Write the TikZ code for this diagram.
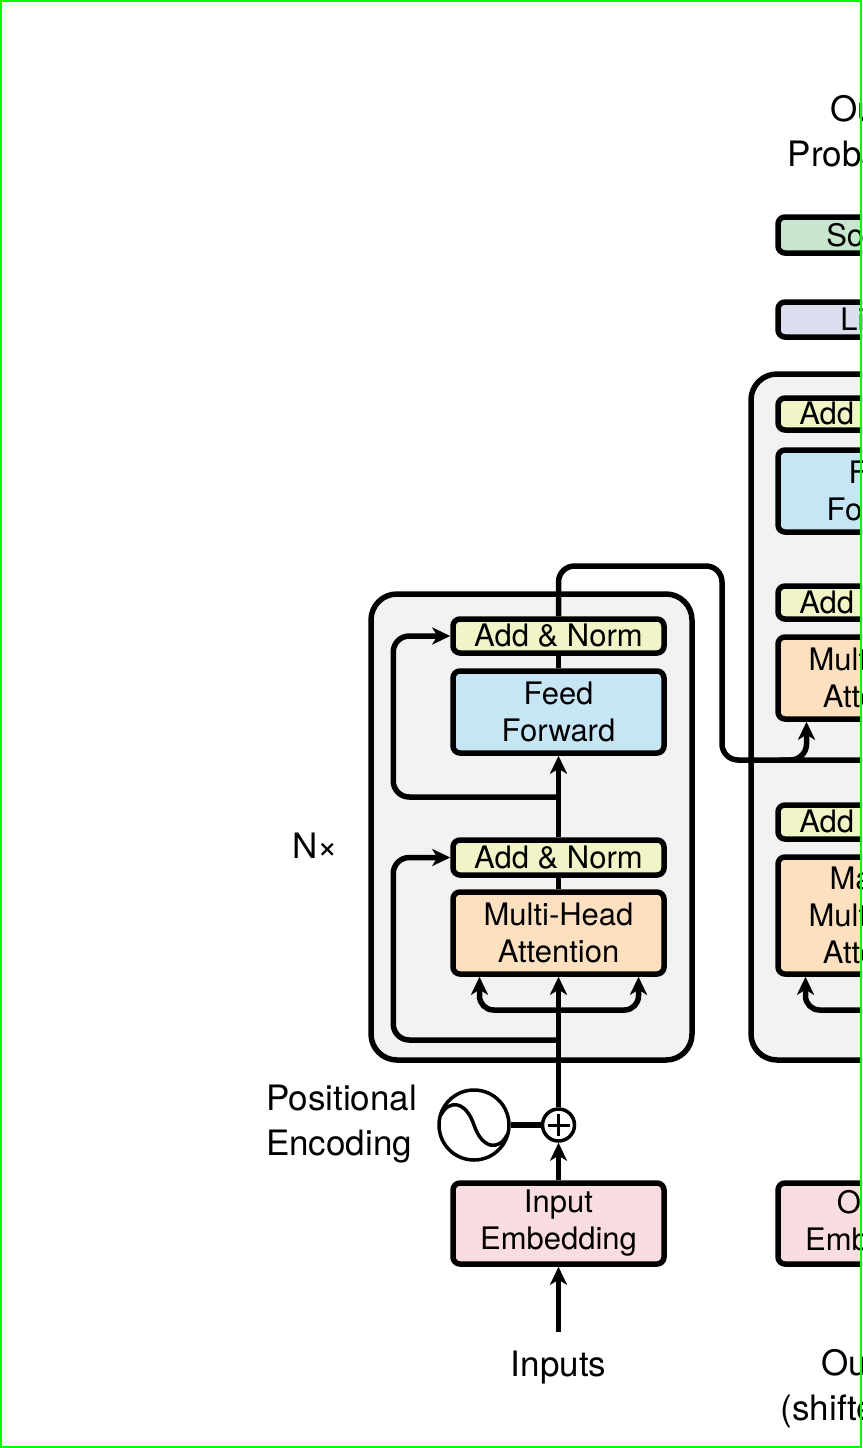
\documentclass[tikz,border=0pt]{standalone}
\usepackage{fontspec}
\setmainfont{TeX Gyre Heros}
\usetikzlibrary{calc,arrows.meta}
\definecolor{stackgray}{RGB}{242,242,242}
\definecolor{normcol}{RGB}{240,244,198}
\definecolor{ffcol}{RGB}{198,230,245}
\definecolor{attcol}{RGB}{253,224,192}
\definecolor{embcol}{RGB}{250,221,225}
\definecolor{softcol}{RGB}{200,230,206}
\definecolor{lincol}{RGB}{220,222,240}
\tikzset{
	block/.style={rectangle,draw,rounded corners=7,line width=5.5,minimum width=211,inner sep=0pt,align=center,font=\fontsize{31}{37}\selectfont},
	addnorm/.style={block,fill=normcol,minimum height=34},
	lbl/.style={draw=none,inner sep=0pt,align=center,font=\fontsize{35}{45}\selectfont},
	wire/.style={line width=5.5},
	directed/.style={line width=5.5,arrows={-Stealth[length=18pt,width=17pt,inset=5pt]}}
	}
\begin{document}
\begin{tikzpicture}[x=1pt,y=-1pt,
		stack/.style={draw,line width=5.5,rounded corners=26,fill=stackgray},
		ring/.style={circle,draw,line width=3.5,inner sep=0pt}]
	\useasboundingbox (0,0) rectangle (862,1448);
	\clip (0,0) rectangle (862,1448);
	\draw[stack] (371,594) rectangle (692,1060);
	\draw[stack] (751,374) rectangle (1072,1060);
	% encoder
	\node[addnorm] (addB) at (558.5,636) {Add \& Norm};
	\node[block,fill=ffcol,minimum height=82] (ff) at (558.5,712) {Feed\\Forward};
	\node[addnorm,minimum height=35] (addA) at (558.5,857.5) {Add \& Norm};
	\node[block,fill=attcol,minimum height=82] (mha) at (558.5,933) {Multi-Head\\Attention};
	\node[block,fill=embcol,minimum height=81] (emb) at (558.5,1223.5) {Input\\Embedding};
	\node[ring,minimum size=32] (plus) at (558.5,1125) {};
	\node[ring,minimum size=70] (pe) at (474,1125) {};
	\node[lbl,align=left] (posenc) at (341.5,1124) {Positional\\Encoding};
	\node[lbl] (inp) at (558.5,1368) {Inputs};
	\node[lbl] (nx) at (315,846) {N×};
	% decoder
	\node[lbl] (outprob) at (883,131) {Output\\Probabilities};
	\node[block,fill=softcol,minimum height=36] (softmax) at (883.5,235) {Softmax};
	\node[block,fill=lincol,minimum height=35] (linear) at (883.5,319.5) {Linear};
	\node[addnorm,minimum height=32] (daddC) at (883.5,414) {Add \& Norm};
	\node[block,fill=ffcol,minimum height=82] (dff) at (883.5,491) {Feed\\Forward};
	\node[addnorm,minimum height=33] (daddB) at (883.5,602.5) {Add \& Norm};
	\node[block,fill=attcol,minimum height=82] (dmha) at (883.5,678) {Multi-Head\\Attention};
	\node[addnorm] (daddA) at (883.5,822) {Add \& Norm};
	\node[block,fill=attcol,minimum height=117] (dmmha) at (883.5,915.5) {Masked\\Multi-Head\\Attention};
	\node[block,fill=embcol,minimum height=81] (oemb) at (883.5,1223.5) {Output\\Embedding};
	\node[lbl] (outs) at (883,1389) {Outputs\\(shifted right)};
	% sine inside the encoding ring
	\draw[line width=3.5] ($(pe.center)+(-33,-10)$) .. controls ($(pe.center)+(-25,-26)$) and ($(pe.center)+(-8,-24)$) .. (pe.center)
		.. controls ($(pe.center)+(8,24)$) and ($(pe.center)+(25,26)$) .. ($(pe.center)+(33,10)$);
	\draw[line width=3] ([yshift=-11]plus.center) -- ([yshift=11]plus.center);
	\draw[line width=3] ([xshift=-11]plus.center) -- ([xshift=11]plus.center);
	% encoder wires
	\coordinate (inpt) at (558.5,1332);
	\coordinate (esplit) at (558.5,1010);
	\coordinate (eres1) at (558.5,1040);
	\coordinate (eres2) at (558.5,797);
	\draw[directed] (inpt) -- (emb.south);
	\draw[directed] (emb.north) -- (plus.south);
	\draw[wire] (pe.east) -- (plus.west);
	\draw[directed] (plus.north) -- (mha.south);
	\draw[directed,rounded corners=14] (esplit) -| ([xshift=-79]mha.south);
	\draw[directed,rounded corners=14] (esplit) -| ([xshift=80]mha.south);
	\draw[directed,rounded corners=16] (eres1) -| ([xshift=-57]addA.west) -- (addA.west);
	\draw[wire] (mha.north) -- (addA.south);
	\draw[directed] (addA.north) -- (ff.south);
	\draw[directed,rounded corners=16] (eres2) -| ([xshift=-57]addB.west) -- (addB.west);
	\draw[wire] (ff.north) -- (addB.south);
	% encoder output into decoder
	\coordinate (kvsplit) at (780,760);
	\draw[directed,rounded corners=16] (addB.north) |- (722,566) -- (722,760) -| ([xshift=-77]dmha.south);
	\draw[directed,rounded corners=16] (kvsplit) -| (dmha.south);
	\coordinate (dsplit) at (883.5,1010);
	\draw[directed,rounded corners=14] (dsplit) -| ([xshift=-78]dmmha.south);
	\draw[green,line width=2] (1,1) rectangle (861,1447);
\end{tikzpicture}
\end{document}
